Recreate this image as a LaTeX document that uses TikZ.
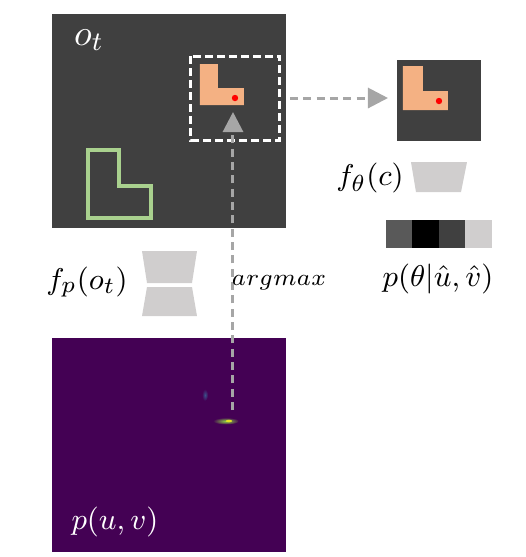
\documentclass[tikz,border=0pt]{standalone}
\usetikzlibrary{arrows.meta}
\definecolor{panelgray}{HTML}{404040}
\definecolor{piece}{HTML}{F4B183}
\definecolor{goal}{HTML}{A9D18E}
\definecolor{flowgray}{HTML}{A6A6A6}
\definecolor{layer}{HTML}{D0CECE}
\definecolor{heat}{HTML}{440154}
\definecolor{binA}{HTML}{595959}
\definecolor{hot}{HTML}{8FD744}
\definecolor{warm}{HTML}{3B528B}
\begin{document}
\begin{tikzpicture}[
  x=0.3pt, y=-0.3pt,
  txt/.style={font=\fontsize{9.5}{11}\selectfont, inner sep=0pt},
  small/.style={font=\fontsize{7}{8}\selectfont, inner sep=0pt},
  flow/.style={draw=flowgray, line width=0.9pt, dash pattern=on 2.4pt off 1.6pt,
               -{Triangle[length=6pt, width=6pt]}},
  cropbox/.style={draw=white, line width=0.9pt, dash pattern=on 2.4pt off 1.2pt},
  outline/.style={draw=goal, line width=1.1pt}
]
\useasboundingbox (0,0) rectangle (526,557);

% observation
\fill[panelgray] (52,14) rectangle (286,228);
\node[txt, font=\fontsize{11}{12}\selectfont, text=white] (obslabel) at (89,40) {$o_t$};
\draw[outline] (88,150) -- (119,150) -- (119,186) -- (151,186) -- (151,218) -- (88,218) -- cycle;
\fill[piece] (200,64) -- (218,64) -- (218,88) -- (244,88) -- (244,105) -- (200,105) -- cycle;
\fill[red] (235,98) circle (3.2);
\draw[cropbox] (191,56) rectangle (280,140);

% crop
\fill[panelgray] (397,60) rectangle (481,141);
\fill[piece] (403,66) -- (423,66) -- (423,91) -- (448,91) -- (448,110) -- (403,110) -- cycle;
\fill[red] (439,101) circle (3.2);

% rotation head
\node[txt] (fthetalabel) at (370,178) {$f_\theta(c)$};
\fill[layer] (411,162) -- (467,162) -- (461,192) -- (416,192) -- cycle;
\foreach \c [count=\i from 0] in {binA, black, panelgray, layer}
  \fill[\c] (386+26.5*\i,220) rectangle (386+26.5*\i+26.5,248);
\node[txt] (thetalabel) at (438,279) {$p(\theta|\hat{u},\hat{v})$};

% placement net
\node[txt] (fplabel) at (87,282) {$f_p(o_t)$};
\fill[layer] (142,251) -- (197,251) -- (192,283) -- (147,283) -- cycle;
\fill[layer] (147,287) -- (192,287) -- (197,316) -- (142,316) -- cycle;

% heatmap
\fill[heat] (52,338) rectangle (286,552);
\shade[inner color=warm, outer color=heat] (205,395) ellipse (3 and 6);
\shade[inner color=hot, outer color=heat] (226,421) ellipse (13 and 3.5);
\fill[yellow!70!hot] (229,421) ellipse (3 and 1.3);
\node[txt, text=white] (uvlabel) at (115,522) {$p(u,v)$};

% arrows
\coordinate (peak) at (233,410);
\coordinate (pick) at (233,112);
\coordinate (cropR) at (290,98);
\coordinate (patchL) at (388,98);
\draw[flow] (peak) -- (pick);
\draw[flow] (cropR) -- (patchL);
\node[small] (argmaxlabel) at (279,283) {$argmax$};
\end{tikzpicture}
\end{document}
